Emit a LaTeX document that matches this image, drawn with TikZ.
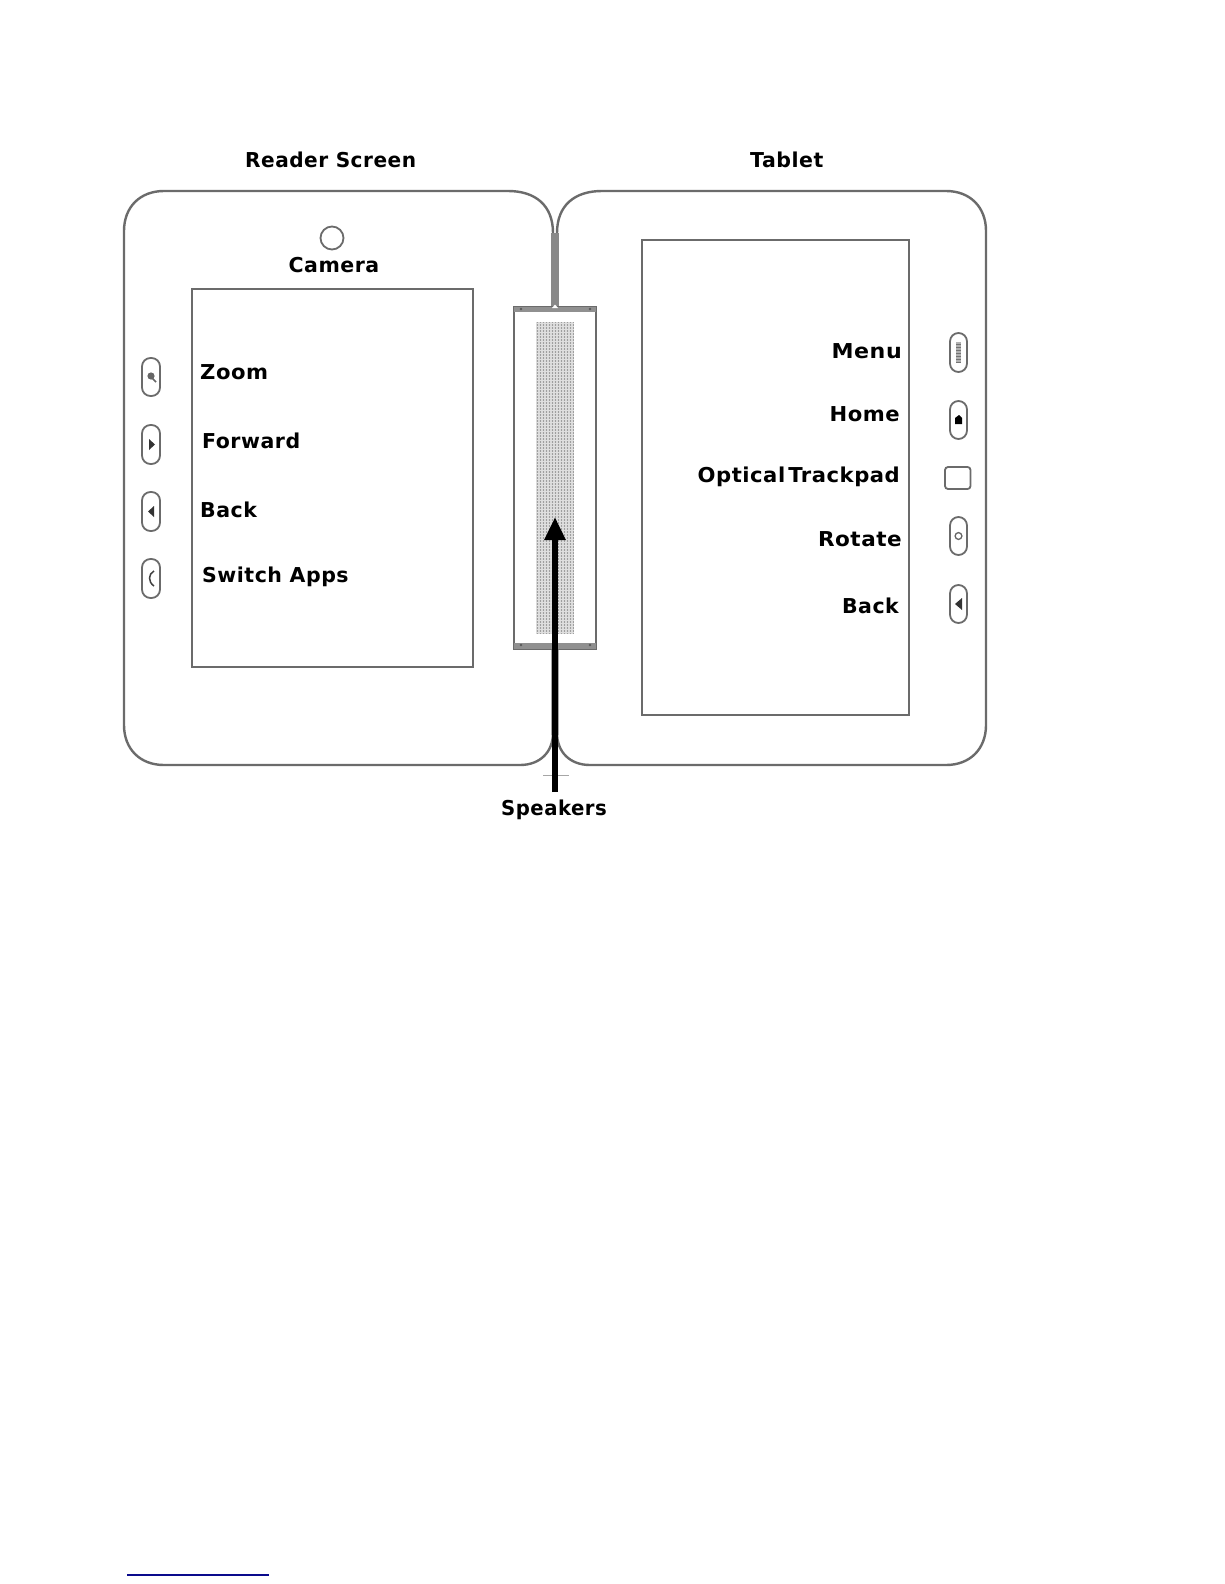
\documentclass[tikz,border=0pt]{standalone}
\usepackage{fontspec}
\usepackage{graphicx}
\setmainfont{DejaVu Sans}
\newfontfamily\lbl[LetterSpace=2.5,BoldFont={DejaVu Sans Bold}]{DejaVu Sans}
\usetikzlibrary{arrows.meta}
\definecolor{lineg}{gray}{0.42}
\tikzset{
  x=1pt,y=-1pt,
  body/.style={draw=lineg,line width=2.4pt,fill=white},
  screenbox/.style={draw=lineg,line width=2.4pt,fill=white},
  hwbtn/.style={draw=lineg,line width=1.8pt,rounded corners=8.5pt},
  glyph/.style={fill=black!80,draw=none},
  lab/.style={font=\lbl\bfseries\fontsize{20.5}{24}\selectfont,inner sep=0pt,text=black,yshift=1pt},
  band/.style={fill=lineg!75,draw=none},
}
\begin{document}
\begin{tikzpicture}
\useasboundingbox (0,0) rectangle (1224,1584);
% bodies
\draw[body] (553,233) .. controls (553,205) and (535,191) .. (508,191) -- (164,191)
  .. controls (140,191) and (124,207) .. (124,231) -- (124,725)
  .. controls (124,749) and (140,765) .. (164,765) -- (520,765)
  .. controls (540,765) and (553,752) .. (553,733) -- cycle;
\draw[body] (557,233) .. controls (557,205) and (575,191) .. (602,191) -- (946,191)
  .. controls (970,191) and (986,207) .. (986,231) -- (986,725)
  .. controls (986,749) and (970,765) .. (946,765) -- (590,765)
  .. controls (570,765) and (557,752) .. (557,733) -- cycle;
\fill[lineg!80] (551,233) rectangle (559,308);
\fill[lineg!60] (551,649) rectangle (559,735);
% screens
\node[screenbox,minimum width=281pt,minimum height=378pt,inner sep=0pt] (reader) at (332.5,478) {};
\node[screenbox,minimum width=267pt,minimum height=475pt,inner sep=0pt] (tablet) at (775.5,477.5) {};
% camera
\node[draw=lineg,line width=1.8pt,circle,minimum size=23pt,inner sep=0pt] (cam) at (332,238) {};
% speaker
\node[screenbox,minimum width=82pt,minimum height=341pt,inner sep=0pt] (spk) at (555,478) {};
\fill[band] (514,307) rectangle (596,312);
\fill[band] (514,643) rectangle (596,649);
\fill[white] (555,304.5) -- (558,308) -- (552,308) -- cycle;
\foreach \px in {521,590}{\fill[black!65] (\px,309) circle (1.3pt);\fill[black!65] (\px,645) circle (1.3pt);}
\fill[gray!30] (536,322) rectangle (574,634);
\foreach \gx in {537,540,...,574}{\draw[gray!75,line width=0.9pt] (\gx,322) -- (\gx,634);}
\foreach \gy in {323,326,...,634}{\draw[white!75!gray,line width=0.9pt] (536,\gy) -- (574,\gy);}
% left buttons
\draw[hwbtn] (142,358) rectangle (160,396);
\draw[hwbtn] (142,425) rectangle (160,464);
\draw[hwbtn] (142,492) rectangle (160,531);
\draw[hwbtn] (142,559) rectangle (160,598);
\fill[glyph,black!60] (151,376) circle (3.6pt);
\draw[black!60,line width=1.5pt] (152,378) -- (156,382);
\fill[glyph] (149,439) -- (155,444.5) -- (149,450) -- cycle;
\fill[glyph] (154,506) -- (148,511.5) -- (154,517) -- cycle;
\draw[black!75,line width=1.5pt] (154,571) .. controls (148,574) and (148,582) .. (154,586);
% right buttons
\draw[hwbtn] (950,333) rectangle (967,372);
\draw[hwbtn] (950,401) rectangle (967,439);
\draw[draw=lineg,line width=1.8pt,rounded corners=3pt] (945,467) rectangle (970.5,489);
\draw[hwbtn] (950,517) rectangle (967,555);
\draw[hwbtn] (950,585) rectangle (967,623);
\fill[gray!60] (956,342) rectangle (961,362);
\foreach \gy in {344,347,...,362}{\draw[black!55,line width=0.8pt] (956,\gy) -- (961,\gy);}
\fill[glyph,black] (955,424) -- (955,418) -- (959,415) -- (962,418) -- (962,424) -- cycle;
\draw[black!60,line width=1.3pt] (958.5,536) circle (3.4pt);
\fill[glyph] (962,598) -- (955,604) -- (962,610) -- cycle;
% labels
\node[lab,anchor=base west] (treader) at (245,168) {\scalebox{.98}[1]{Reader Screen}};
\node[lab,anchor=base west] (ttablet) at (750,168) {Tablet};
\node[lab,anchor=base] (tcam) at (334,273) {Camera};
\node[lab,anchor=base west] (tzoom) at (200,380) {\scalebox{1.03}[1]{Zoom}};
\node[lab,anchor=base west] (tfwd) at (202,449) {Forward};
\node[lab,anchor=base west] (tback) at (200,518) {Back};
\node[lab,anchor=base west] (tswitch) at (202,583) {Switch Apps};
\node[lab,anchor=base east] (tmenu) at (902,359) {\scalebox{1.08}[1]{Menu}};
\node[lab,anchor=base east] (thome) at (900,422) {\scalebox{1.03}[1]{Home}};
\node[lab,anchor=base east] (ttrack) at (900,483) {\scalebox{1.03}[1]{Optical\hspace{3pt}Trackpad}};
\node[lab,anchor=base east] (trot) at (902,547) {\scalebox{1.05}[1]{Rotate}};
\node[lab,anchor=base east] (tback2) at (899,614) {Back};
\node[lab,anchor=base] (tspk) at (554,816) {\scalebox{.96}[1]{Speakers}};
% arrow
\coordinate (arrowfoot) at (555,792);
\coordinate (arrowtip) at (555,517);
\draw[gray!70,line width=0.8pt] (543,775) -- (569,775);
\draw[line width=6.5pt,black,-{Triangle[width=20pt,length=23pt]}] (arrowfoot) -- (arrowtip);
% footnote rule
\draw[draw={rgb,255:red,10;green,10;blue,140},line width=1.6pt] (127,1575) -- (269,1575);
\end{tikzpicture}
\end{document}
